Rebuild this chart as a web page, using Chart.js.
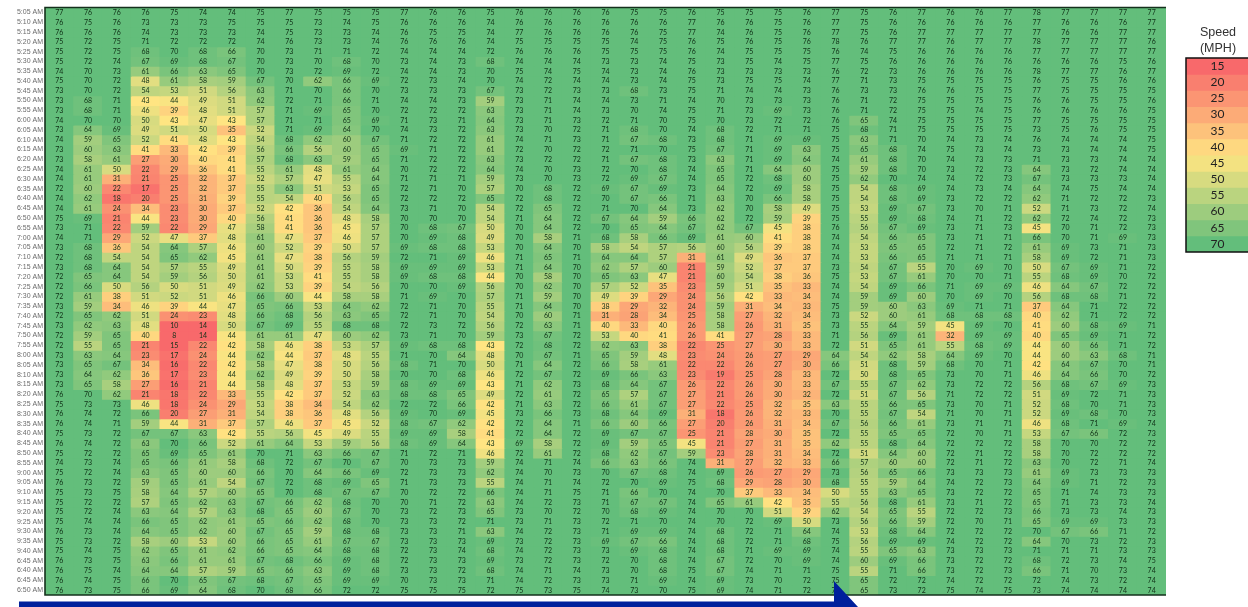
<!DOCTYPE html>
<html>
<head>
<meta charset="utf-8">
<script src="https://cdn.jsdelivr.net/npm/chart.js@4"></script>
<style>
html,body{margin:0;padding:0;background:#fff;width:1248px;height:607px;overflow:hidden}
#wrap{position:relative;width:1248px;height:607px;overflow:hidden}
canvas{position:absolute;filter:blur(0.35px)}
#title{position:absolute;left:1168px;width:100px;top:24px;text-align:center;font:12.5px/16px "Liberation Sans",Arial,sans-serif;color:#333}
#arrow{position:absolute;left:0;top:0}
</style>
</head>
<body>
<div id="wrap">
<canvas id="heat" width="1248" height="607" style="left:0;top:0"></canvas>
<canvas id="key" width="64" height="196" style="left:1185px;top:57px"></canvas>
<div id="title">Speed<br>(MPH)</div>
<svg id="arrow" width="1248" height="607"><polygon points="19,601.5 834,601.5 834,581 858,607 19,607" fill="#00209c"/></svg>
</div>
<script>
const timeLabels = ["5:05 AM","5:10 AM","5:15 AM","5:20 AM","5:25 AM","5:30 AM","5:35 AM","5:40 AM","5:45 AM","5:50 AM","5:55 AM","6:00 AM","6:05 AM","6:10 AM","6:15 AM","6:20 AM","6:25 AM","6:30 AM","6:35 AM","6:40 AM","6:45 AM","6:50 AM","6:55 AM","7:00 AM","7:05 AM","7:10 AM","7:15 AM","7:20 AM","7:25 AM","7:30 AM","7:35 AM","7:40 AM","7:45 AM","7:50 AM","7:55 AM","8:00 AM","8:05 AM","8:10 AM","8:15 AM","8:20 AM","8:25 AM","8:30 AM","8:35 AM","8:40 AM","8:45 AM","8:50 AM","8:55 AM","9:00 AM","9:05 AM","9:10 AM","9:15 AM","9:20 AM","9:25 AM","9:30 AM","9:35 AM","9:40 AM","6:45 AM","6:40 AM","6:45 AM","6:50 AM"];
const columnIds = Array.from({length:39},(_,i)=>"D"+(i+1));
const legendSpeeds = [15,20,25,30,35,40,45,50,55,60,65,70];
const speeds = [
[77,76,76,76,75,74,74,75,77,75,75,75,77, 76,76,75,76,76,76,76,75,75,76,75,75,75,76, 77,75,76,77,76,76,77,78,77,77,77,77],
[76,75,76,73,73,73,75,75,75,73,74,75,76, 76,76,74,76,76,76,76,76,76,77,76,76,75,76, 77,75,76,76,76,76,76,77,76,76,76,77],
[76,76,76,74,73,73,73,74,75,73,73,74,76, 75,75,74,77,76,76,76,76,75,77,74,76,75,76, 77,75,76,77,77,77,77,77,76,76,77,77],
[75,72,75,71,72,72,72,74,76,73,73,74,76, 76,76,74,75,75,75,75,74,75,76,75,76,75,76, 78,76,77,77,76,77,77,78,77,77,77,76],
[75,72,75,68,70,68,66,70,73,71,71,72,74, 74,74,72,76,76,76,75,75,75,76,74,75,75,75, 76,74,75,76,76,76,76,77,77,77,77,77],
[75,72,74,67,69,68,67,70,73,70,68,70,73, 74,73,68,74,74,74,73,73,74,75,73,75,74,75, 77,75,76,76,76,76,76,76,76,76,75,76],
[74,70,73,61,66,63,65,70,73,72,69,72,74, 74,73,70,75,74,75,74,73,74,76,73,73,73,73, 76,72,73,76,76,76,76,78,77,77,76,77],
[75,70,72,48,61,58,59,67,70,62,66,69,72, 73,74,70,74,72,74,74,73,74,75,73,75,75,74, 77,71,73,75,75,75,75,76,75,75,76,76],
[73,70,72,54,53,51,56,63,71,70,66,70,73, 73,73,67,73,72,73,73,68,73,75,71,74,74,73, 76,73,73,76,76,75,75,77,75,75,75,75],
[73,68,71,43,44,49,51,62,72,71,66,71,74, 74,73,59,73,71,74,74,73,71,74,70,73,73,73, 76,71,72,75,75,75,75,76,76,75,75,76],
[73,68,71,46,39,48,51,57,71,69,65,70,72, 72,72,63,73,71,74,73,70,74,75,71,73,69,73, 76,71,72,75,75,74,75,76,76,76,76,75],
[74,70,70,50,43,47,43,57,71,71,65,69,71, 73,71,64,73,71,73,72,71,70,75,70,73,72,72, 76,65,74,75,75,75,75,77,75,75,75,75],
[73,64,69,49,51,50,35,52,71,69,64,70,74, 73,72,63,73,70,72,71,68,70,74,68,72,71,71, 75,68,71,75,75,75,75,73,75,76,75,75],
[74,59,65,52,41,48,43,54,68,62,60,67,71, 72,72,61,74,71,73,71,67,68,73,68,71,69,69, 75,63,71,70,74,73,74,76,74,74,74,75],
[73,60,63,41,33,42,39,56,66,56,60,65,69, 71,72,61,72,70,72,72,71,70,75,67,71,69,63, 75,65,68,74,75,73,74,73,73,74,74,75],
[73,58,61,27,30,40,41,57,68,63,59,65,71, 72,72,63,73,72,72,71,67,68,73,63,71,69,64, 74,61,68,70,74,73,73,71,73,73,74,74],
[74,61,50,22,29,36,41,55,61,48,61,64,70, 72,72,64,74,70,73,72,70,68,74,65,71,64,60, 75,59,68,70,73,72,73,64,73,72,74,74],
[74,61,31,21,25,32,37,52,57,47,55,64,71, 71,71,59,73,70,73,72,69,67,74,65,72,68,60, 75,62,70,74,74,72,73,67,73,73,73,74],
[72,60,22,17,25,32,37,55,63,51,53,65,72, 71,70,57,70,68,72,69,67,69,73,64,72,69,58, 75,54,68,69,74,73,74,64,74,75,74,74],
[74,62,18,20,25,31,39,55,54,40,56,65,72, 72,72,65,72,68,72,70,67,66,71,63,70,66,58, 75,54,68,69,73,72,72,62,71,72,72,73],
[74,61,24,34,23,30,37,52,42,36,54,64,73, 71,70,54,72,65,72,71,70,64,73,62,70,58,49, 75,53,69,67,73,70,71,52,71,73,72,74],
[75,69,21,44,23,30,40,56,41,36,48,58,70, 70,70,54,71,64,72,67,64,59,66,62,72,59,39, 75,55,69,68,74,71,72,62,72,74,72,73],
[73,71,22,59,22,29,47,58,41,36,45,57,70, 68,67,50,70,64,72,70,65,64,67,62,67,45,38, 76,56,67,69,73,71,73,45,70,71,72,73],
[74,71,29,52,47,37,48,61,47,37,46,57,70, 69,68,49,70,58,71,68,58,66,69,61,60,41,38, 74,54,66,65,73,71,71,66,70,71,69,73],
[73,68,36,54,64,57,46,60,52,39,50,57,69, 68,68,53,70,64,70,58,54,57,56,60,56,39,38, 74,53,65,65,72,71,72,61,69,73,71,73],
[72,68,54,54,65,62,45,61,47,38,56,59,72, 71,69,46,71,65,71,64,64,57,31,61,49,36,37, 74,53,66,65,71,71,71,58,69,72,71,73],
[73,68,64,54,57,55,49,61,50,39,55,58,69, 69,69,53,71,64,70,62,57,60,21,59,52,37,37, 73,54,67,55,70,69,70,50,67,69,71,72],
[72,65,64,54,59,56,50,61,53,41,55,58,69, 68,68,44,70,58,70,65,63,47,21,60,54,38,36, 75,53,67,61,70,70,71,55,68,69,70,72],
[72,66,50,56,50,51,49,62,53,39,54,56,70, 70,69,56,70,62,70,57,52,35,23,59,51,35,33, 74,54,69,66,71,69,69,46,64,67,72,72],
[72,61,38,51,52,51,46,66,60,44,58,58,71, 69,70,57,71,59,70,49,39,29,24,56,42,33,34, 74,59,69,60,70,69,70,56,68,68,71,72],
[73,59,34,46,39,44,47,65,66,53,64,62,72, 71,70,55,71,64,70,38,29,32,24,59,31,34,33, 75,59,60,63,69,71,71,37,64,71,72,72],
[72,65,62,51,24,23,48,66,68,56,63,65,72, 71,70,54,70,60,71,31,28,34,25,58,27,32,34, 73,52,60,61,68,68,68,40,62,71,72,72],
[73,62,63,48,10,14,50,67,69,55,68,68,72, 73,72,56,72,63,71,40,33,40,26,58,26,31,35, 73,55,64,59,45,69,70,41,60,68,69,71],
[72,59,65,40,8,14,44,61,61,47,60,62,73, 71,70,59,73,67,72,53,40,41,26,41,27,28,33, 71,56,69,61,32,69,69,40,65,69,71,72],
[72,55,65,21,15,22,42,58,46,38,53,57,69, 68,68,43,72,68,72,62,63,38,22,25,27,30,33, 72,51,65,61,55,68,69,44,60,66,71,72],
[73,63,64,23,17,24,44,62,44,37,48,55,71, 70,64,48,70,67,71,65,59,48,23,24,26,27,29, 64,54,62,58,64,69,70,44,60,63,68,71],
[73,65,67,34,16,22,42,58,47,38,50,56,68, 71,70,50,71,64,72,66,58,61,22,22,26,27,30, 66,51,68,59,68,70,71,42,64,67,70,71],
[73,64,62,36,17,23,44,62,49,39,50,58,70, 70,68,46,72,67,72,69,66,63,23,19,25,28,33, 72,50,68,65,73,70,71,46,64,66,70,72],
[73,65,58,27,16,21,44,58,48,37,53,59,68, 69,69,43,71,62,73,68,64,67,26,22,26,30,33, 67,55,67,62,73,72,72,56,68,67,69,73],
[76,70,62,21,18,22,33,55,42,37,52,63,68, 68,65,49,72,61,72,65,57,67,27,21,26,30,32, 72,51,67,56,71,72,72,51,69,72,71,73],
[75,73,73,46,18,24,29,53,38,34,54,62,72, 72,66,42,71,63,72,66,61,67,27,22,25,32,35, 63,55,66,65,73,70,71,52,68,70,71,73],
[76,74,72,66,20,27,31,54,38,36,48,56,69, 70,69,45,73,66,73,68,64,69,31,18,26,32,33, 70,55,67,54,71,70,71,52,69,68,70,73],
[76,74,71,59,44,31,37,57,46,37,45,52,68, 67,62,42,72,64,71,66,60,66,27,20,26,31,34, 67,56,66,61,73,71,71,46,68,71,69,74],
[75,73,72,67,67,63,42,55,56,45,49,55,69, 69,58,41,72,64,72,69,67,67,25,21,28,30,35, 72,55,65,65,72,70,71,53,67,66,72,73],
[76,74,72,63,70,66,52,61,64,53,59,56,68, 69,64,43,69,58,72,69,59,65,45,21,27,31,35, 62,55,68,64,72,72,72,58,70,70,72,72],
[75,72,72,65,69,65,61,70,71,63,66,67,71, 72,71,46,72,61,72,68,62,67,59,23,28,31,34, 72,51,64,60,72,71,72,58,70,72,72,72],
[74,73,74,65,66,61,58,68,72,67,70,67,70, 73,73,59,74,71,74,66,63,66,74,31,27,32,33, 66,57,60,60,72,71,72,63,70,72,71,74],
[75,72,74,63,65,60,60,66,70,64,66,69,72, 73,73,62,74,70,73,70,67,68,74,69,26,27,29, 73,56,65,66,73,73,73,61,69,73,73,73],
[76,73,72,59,65,61,54,67,72,68,69,65,71, 73,73,55,74,71,74,72,70,69,75,68,29,28,30, 68,55,59,64,74,72,73,64,69,71,72,73],
[75,73,75,58,64,57,60,65,70,68,67,67,70, 72,72,66,74,71,75,71,66,70,74,70,37,33,34, 50,55,63,65,73,72,72,65,71,74,73,73],
[75,72,72,57,65,62,63,67,66,62,68,70,70, 71,72,63,74,72,73,71,67,67,74,65,61,42,35, 55,56,68,61,73,71,72,65,71,73,73,74],
[75,72,74,63,64,57,63,68,65,60,67,70,73, 72,73,65,73,70,72,70,68,69,74,70,70,51,39, 62,54,65,55,72,72,73,66,73,73,74,73],
[75,74,74,66,65,62,61,65,66,62,68,70,73, 73,72,71,73,71,73,72,71,70,74,70,72,69,50, 73,56,66,59,72,70,71,65,69,69,73,73],
[76,73,74,64,65,62,60,67,65,59,68,68,73, 73,71,63,74,72,73,71,69,69,74,68,72,71,64, 74,53,68,64,72,72,72,70,67,66,71,72],
[75,73,72,58,60,53,60,66,65,61,67,67,73, 73,73,69,73,72,73,69,67,66,74,68,72,71,68, 75,56,69,69,74,72,72,64,70,73,72,73],
[75,74,75,62,65,61,62,66,65,64,68,68,72, 73,74,68,74,72,73,73,69,68,74,68,71,69,69, 74,55,65,63,73,73,73,71,71,71,73,73],
[76,73,75,63,66,61,61,67,68,66,69,68,72, 73,73,69,73,72,73,72,70,68,74,67,72,70,69, 74,60,69,66,73,72,72,68,72,73,74,75],
[76,75,74,64,64,57,59,65,66,63,69,68,73, 73,72,68,74,71,74,73,70,68,75,67,74,71,71, 75,55,71,66,73,72,73,66,71,70,73,74],
[76,74,75,66,70,65,67,68,67,65,69,69,70, 73,73,71,74,72,73,73,71,69,74,69,73,70,72, 75,65,72,72,74,72,72,72,74,73,72,74],
[76,73,75,66,69,64,68,70,68,66,72,72,75, 75,75,72,75,73,75,74,73,70,75,69,74,71,72, 75,65,73,72,75,74,75,73,74,74,74,74]
];

const STOPS = [[15,[248,105,107]],[43,[255,229,130]],[70,[99,190,123]]];
function speedColor(v){
  if(v<=STOPS[0][0]) return `rgb(${STOPS[0][1]})`;
  for(let i=1;i<STOPS.length;i++){
    if(v<=STOPS[i][0]){
      const [a,ca]=STOPS[i-1],[b,cb]=STOPS[i],t=(v-a)/(b-a);
      return `rgb(${ca.map((c,k)=>Math.round(c+(cb[k]-c)*t))})`;
    }
  }
  return `rgb(${STOPS[2][1]})`;
}
const cellText = {
  id:'cellText',
  afterDatasetsDraw(chart){
    const {ctx}=chart, o=chart.options.plugins.cellText;
    ctx.save();
    ctx.font=o.font; ctx.fillStyle=o.color; ctx.textAlign='center'; ctx.textBaseline='middle';
    chart.data.datasets.forEach((ds,di)=>{
      chart.getDatasetMeta(di).data.forEach((el,i)=>{
        const p=el.getCenterPoint();
        ctx.fillText(String(ds.values[i]),p.x+(o.dx||0),p.y+(o.dy||0));
      });
    });
    const a=chart.chartArea;
    ctx.strokeStyle=o.frame; ctx.lineWidth=o.frameWidth;
    ctx.beginPath();
    ctx.moveTo(a.right,a.top); ctx.lineTo(a.left,a.top); ctx.lineTo(a.left,a.bottom); ctx.lineTo(a.right,a.bottom);
    ctx.stroke();
    ctx.restore();
  }
};
Chart.register(cellText);
const rowScale = (n,extra)=>Object.assign({type:'linear',reverse:true,min:-0.5,max:n-0.5,grid:{display:false,drawTicks:false},border:{display:false}},extra);

new Chart(document.getElementById('heat'),{
  type:'bar',
  data:{
    labels:columnIds,
    datasets:speeds.map((row,r)=>({
      label:timeLabels[r],
      values:row,
      data:row.map(()=>[r-0.5,r+0.5]),
      backgroundColor:row.map(speedColor),
      borderWidth:0,borderSkipped:false,inflateAmount:0.5,
      grouped:false,barPercentage:1,categoryPercentage:1
    }))
  },
  options:{
    responsive:false,animation:false,
    layout:{padding:{left:0,top:7.5,right:82,bottom:12}},
    plugins:{legend:{display:false},tooltip:{enabled:false},
      cellText:{font:'7px Lato, "Liberation Sans", sans-serif',color:'#0f3016',frame:'#14301c',frameWidth:1.6,dy:0.3}},
    scales:{
      x:{display:false},
      y:rowScale(speeds.length,{
        afterFit(s){s.width=45;},
        afterBuildTicks(s){s.ticks=timeLabels.map((_,i)=>({value:i}));},
        afterTickToLabelConversion(s){s.ticks.forEach((t,i)=>{t.label=timeLabels[i];});},
        ticks:{autoSkip:false,padding:2,maxRotation:0,minRotation:0,
          color:'#6b6b6b',font:{family:'"Liberation Sans",Arial,sans-serif',size:7}}
      })
    }
  }
});

new Chart(document.getElementById('key'),{
  type:'bar',
  data:{
    labels:['Speed'],
    datasets:legendSpeeds.map((s,r)=>({
      label:String(s),
      values:[s],
      data:[[r-0.5,r+0.5]],
      backgroundColor:[speedColor(s)],
      borderWidth:0,borderSkipped:false,inflateAmount:0.5,
      grouped:false,barPercentage:1,categoryPercentage:1
    }))
  },
  options:{
    responsive:false,animation:false,
    layout:{padding:{left:1,top:1,right:0,bottom:1}},
    plugins:{legend:{display:false},tooltip:{enabled:false},
      cellText:{font:'12px Lato, "Liberation Sans", sans-serif',color:'#222',frame:'#111',frameWidth:1.5,dy:0}},
    scales:{x:{display:false},y:rowScale(legendSpeeds.length,{display:false})}
  }
});
</script>
</body>
</html>
